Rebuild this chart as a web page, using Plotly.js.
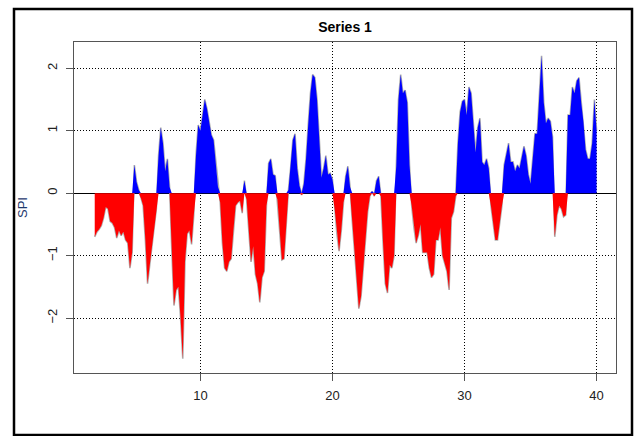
<!DOCTYPE html>
<html>
<head>
<meta charset="utf-8">
<script src="https://cdn.plot.ly/plotly-3.0.1.min.js"></script>
<style>html,body{margin:0;padding:0;background:#fff;}#chart{width:634px;height:436px;}</style>
</head>
<body>
<div id="chart"></div>
<script>
// Time axis: start year index and step (two-month resolution)
const startX = 2.0;
const stepX = 1 / 6;
// SPI values (one per step)
const spi = [
  -0.70,-0.62,-0.58,-0.52,-0.40,-0.22,-0.25,-0.45,-0.48,-0.55,-0.72,-0.60,-0.68,-0.62,-0.75,-0.80,-1.20,-0.95,
  0.45,0.18,0.05,-0.08,-0.20,-0.75,-1.45,-1.15,-0.85,-0.60,-0.25,0.60,
  1.05,0.80,0.35,0.55,0.10,-0.90,-1.80,-1.55,-1.50,-2.00,-2.65,-1.10,
  -0.65,-0.60,-0.82,-0.35,0.60,1.09,1.00,1.25,1.50,1.35,1.17,0.93,
  0.85,0.50,0.10,-0.15,-0.80,-1.20,-1.25,-1.10,-1.05,-0.60,-0.20,-0.15,
  -0.12,-0.32,0.20,-0.10,-0.60,-1.10,-0.85,-1.30,-1.45,-1.75,-1.35,-1.25,
  -0.20,0.48,0.55,0.30,0.28,-0.10,-0.60,-1.07,-1.05,-0.50,0.05,0.40,
  0.85,0.95,0.40,0.12,-0.03,0.15,0.55,1.10,1.60,1.90,1.85,1.50,
  0.85,0.25,0.40,0.60,0.30,0.32,0.22,-0.25,-0.65,-0.93,-0.60,-0.15,
  0.27,0.43,0.10,-0.45,-0.90,-1.45,-1.85,-1.65,-1.15,-0.80,-0.30,-0.05,
  0.03,-0.05,0.20,0.27,-0.05,-0.80,-1.45,-1.60,-1.15,-1.20,-1.00,0.43,
  1.50,1.90,1.60,1.65,1.45,0.45,-0.20,-0.55,-0.80,-0.68,-0.50,-0.95,
  -0.95,-0.95,-1.20,-1.35,-1.30,-0.75,-0.75,-0.55,-1.00,-1.15,-1.25,-1.55,
  -0.40,-0.30,-0.05,0.80,1.30,1.47,1.50,1.25,1.70,1.60,1.10,0.65,
  1.05,1.20,0.50,0.45,0.55,0.40,-0.20,-0.50,-0.75,-0.75,-0.45,-0.20,
  0.45,0.60,0.80,0.50,0.50,0.35,0.45,0.40,0.60,0.75,0.60,0.30,
  0.15,0.60,0.95,0.95,1.65,2.20,1.45,1.12,1.20,1.15,0.90,-0.70,
  -0.35,-0.20,-0.25,-0.38,-0.35,1.25,1.25,1.70,1.60,1.80,1.85,1.45,
  1.15,0.70,0.55,0.55,0.80,1.50,1.00
];
const xTicks = [10, 20, 30, 40];
const yTicks = [-2, -1, 0, 1, 2];
const chartTitle = "Series 1";
const yLabel = "SPI";

const xs = spi.map((_, i) => startX + i * stepX);
const pos = spi.map(v => Math.max(v, 0));
const neg = spi.map(v => Math.min(v, 0));

const traces = [
  {x: xs, y: spi, type: 'scatter', mode: 'lines', line: {color: '#b0b0b0', width: 1.6}, hoverinfo: 'skip', showlegend: false},
  {x: xs, y: pos, type: 'scatter', mode: 'lines', fill: 'tozeroy', fillcolor: '#0000ff', line: {width: 0, color: '#0000ff'}, showlegend: false},
  {x: xs, y: neg, type: 'scatter', mode: 'lines', fill: 'tozeroy', fillcolor: '#ff0000', line: {width: 0, color: '#ff0000'}, showlegend: false}
];

const L = 74, R = 18, T = 42, B = 63, W = 634, H = 436;
const pw = W - L - R, ph = H - T - B;

const layout = {
  width: W, height: H,
  margin: {l: L, r: R, t: T, b: B, pad: 0},
  paper_bgcolor: '#ffffff', plot_bgcolor: '#ffffff',
  font: {family: 'Liberation Sans, Arial, sans-serif', size: 13, color: '#222'},
  title: {text: '<b>' + chartTitle + '</b>', font: {size: 14, color: '#000'}, x: (L + pw / 2) / W, xanchor: 'center', y: 1 - 27 / H, yanchor: 'middle', yref: 'container', xref: 'container'},
  xaxis: {
    range: [0.43, 41.47], tickvals: xTicks, ticks: 'outside', ticklen: 7, tickcolor: '#555',
    ticklabelstandoff: 3, tickfont: {size: 13},
    showline: true, linecolor: '#555', linewidth: 1, mirror: true,
    showgrid: true, gridcolor: '#000', gridwidth: 1, griddash: '1px,2px',
    zeroline: false, fixedrange: true, automargin: false
  },
  yaxis: {
    range: [-2.88, 2.42], tickvals: yTicks, ticks: 'outside', ticklen: 7, tickcolor: '#555', tickangle: -90,
    ticklabelstandoff: 4, tickfont: {size: 13},
    showline: true, linecolor: '#555', linewidth: 1, mirror: true,
    showgrid: true, gridcolor: '#000', gridwidth: 1, griddash: '1px,2px',
    zeroline: true, zerolinecolor: '#000', zerolinewidth: 1,
    title: {text: yLabel, font: {size: 13, color: '#1f3a6e'}, standoff: 14},
    fixedrange: true, automargin: false
  },
  shapes: [{
    type: 'rect', xref: 'paper', yref: 'paper',
    x0: (14 - L) / pw, x1: (632 - L) / pw,
    y0: (T + ph - 435) / ph, y1: (T + ph - 9) / ph,
    line: {color: '#000', width: 2.5}, fillcolor: 'rgba(0,0,0,0)', layer: 'above'
  }]
};

Plotly.newPlot('chart', traces, layout, {displayModeBar: false, staticPlot: true});
</script>
</body>
</html>
